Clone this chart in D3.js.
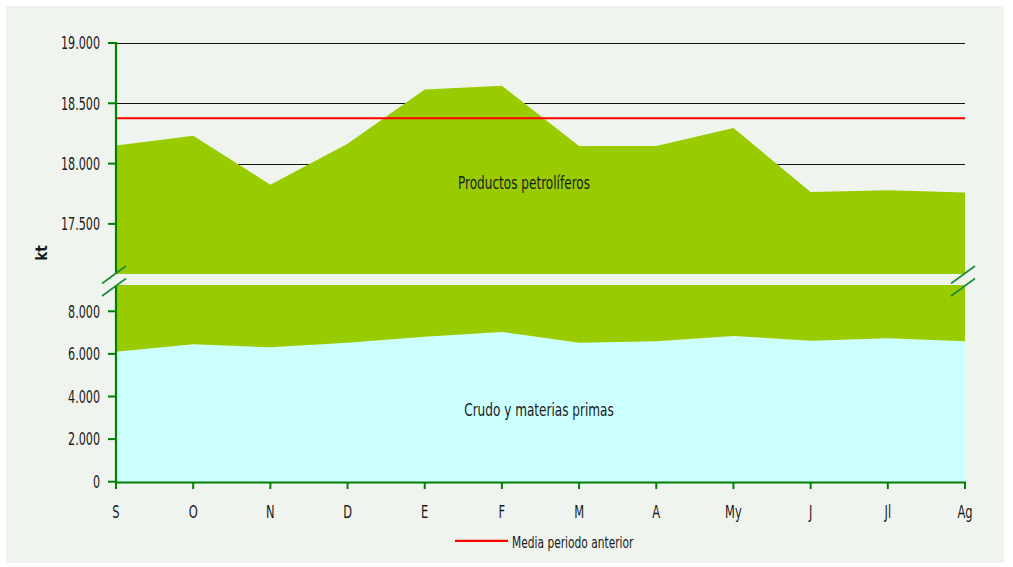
<!DOCTYPE html>
<html><head><meta charset="utf-8">
<script src="https://cdn.jsdelivr.net/npm/d3@7"></script>
<style>
html,body{margin:0;padding:0;background:#fff;}
text{font-family:"DejaVu Sans Condensed","DejaVu Sans",sans-serif;fill:#1a1a1a;}
</style></head>
<body><svg id="c" width="1013" height="567"></svg>
<script>
// ---- data ----
const months = ["S","O","N","D","E","F","M","A","My","J","Jl","Ag"];
const crudo = [6100,6450,6310,6525,6810,7030,6525,6590,6840,6620,6735,6590];
const productos = [12050,11780,11515,11640,11805,11615,11620,11555,11455,11145,11045,11170];
const mediaAnterior = 18376;
const topTicks = [17500,18000,18500,19000];
const topGrid = [18000,18500,19000];
const bottomTicks = [0,2000,4000,6000,8000];
const seriesNames = ["Crudo y materias primas","Productos petrolíferos"];
const legendLabel = "Media periodo anterior";
const yTitle = "kt";

// ---- layout ----
const svg = d3.select("#c");
const X0 = 116, X1 = 965;
const topY0 = 43, topY1 = 274, botY0 = 285, botY1 = 482;
const fmt = v => d3.format(",")(v).replace(/,/g,".");

svg.append("rect").attr("x",6).attr("y",6).attr("width",998).attr("height",557).attr("fill","#eff5ee");

const x = d3.scalePoint().domain(months).range([X0,X1]);
const yTop = d3.scaleLinear().domain([18000,19000]).range([163.6,topY0]);
const yBot = d3.scaleLinear().domain([0,8000]).range([481.7,311.3]);

const rows = months.map((m,i)=>({m, crudo:crudo[i], productos:productos[i]}));
const stack = d3.stack().keys(["crudo","productos"])(rows);

const defs = svg.append("defs");
defs.append("clipPath").attr("id","clipTop").append("rect").attr("x",X0).attr("y",0).attr("width",X1-X0).attr("height",topY1);
defs.append("clipPath").attr("id","clipBot").append("rect").attr("x",X0).attr("y",botY0).attr("width",X1-X0).attr("height",botY1-botY0);

const colors = {crudo:"#ccffff", productos:"#99cc00"};

// gridlines top
svg.append("g").selectAll("line").data(topGrid).join("line")
  .attr("x1",X0).attr("x2",X1).attr("y1",d=>Math.round(yTop(d))+0.5).attr("y2",d=>Math.round(yTop(d))+0.5)
  .attr("stroke","#111").attr("stroke-width",1);

function drawPanel(y, clip){
  const g = svg.append("g").attr("clip-path",`url(#${clip})`);
  const area = d3.area().x(d=>x(d.data.m)).y0(d=>y(d[0])).y1(d=>y(d[1]));
  g.selectAll("path").data(stack).join("path")
    .attr("d",area).attr("fill",d=>colors[d.key]);
}
drawPanel(yTop,"clipTop");
drawPanel(yBot,"clipBot");

// red average line
svg.append("line").attr("x1",X0).attr("x2",X1).attr("y1",yTop(mediaAnterior)).attr("y2",yTop(mediaAnterior))
  .attr("stroke","#ff0000").attr("stroke-width",2.2);

// compress text helper
function squeeze(sel,k){ sel.each(function(){ const L=this.getComputedTextLength(); d3.select(this).attr("textLength",L*k).attr("lengthAdjust","spacingAndGlyphs"); }); }

const axisColor = "#008000";
// y axes
function yAxis(scale, ticks, yA, yB){
  const g = svg.append("g");
  g.append("line").attr("x1",X0).attr("x2",X0).attr("y1",yA).attr("y2",yB).attr("stroke",axisColor).attr("stroke-width",2.2);
  g.selectAll("line.t").data(ticks).join("line").attr("class","t")
    .attr("x1",X0-8).attr("x2",X0).attr("y1",d=>scale(d)).attr("y2",d=>scale(d))
    .attr("stroke",axisColor).attr("stroke-width",2);
  const t = g.selectAll("text").data(ticks).join("text")
    .attr("x",100).attr("y",d=>scale(d)+6.3).attr("text-anchor","end")
    .attr("font-size",17).text(d=>fmt(d));
  squeeze(t,0.73);
}
yAxis(yTop, topTicks, topY0-1, topY1);
yAxis(yBot, bottomTicks, botY0, 483);

// x axis
const gx = svg.append("g");
gx.append("line").attr("x1",X0-1).attr("x2",X1+1).attr("y1",482.5).attr("y2",482.5).attr("stroke",axisColor).attr("stroke-width",2.2);
gx.selectAll("line.t").data(months).join("line").attr("class","t")
  .attr("x1",d=>x(d)).attr("x2",d=>x(d)).attr("y1",482).attr("y2",489).attr("stroke",axisColor).attr("stroke-width",2);
const xl = gx.selectAll("text").data(months).join("text")
  .attr("x",d=>x(d)).attr("y",518).attr("text-anchor","middle").attr("font-size",17).text(d=>d);
squeeze(xl,0.75);

// break markers
const brk = svg.append("g").attr("stroke","#1a8a3a").attr("stroke-width",1.6);
[X0, X1].forEach(bx=>{
  [[0],[12.5]].forEach(([dy])=>{
    brk.append("line").attr("x1",bx-14).attr("y1",284+dy-0.5).attr("x2",bx+10).attr("y2",266+dy);
  });
});

// series labels
const lab1 = svg.append("text").attr("x",524).attr("y",188.5).attr("text-anchor","middle").attr("font-size",17).text(seriesNames[1]);
squeeze(lab1,0.79);
const lab2 = svg.append("text").attr("x",539).attr("y",415.5).attr("text-anchor","middle").attr("font-size",17).text(seriesNames[0]);
squeeze(lab2,0.79);

// y title
svg.append("text").attr("transform","translate(47,253) rotate(-90)").attr("text-anchor","middle")
  .attr("font-size",15).attr("font-weight","bold").text(yTitle);

// legend
svg.append("line").attr("x1",455).attr("x2",508).attr("y1",540.8).attr("y2",540.8).attr("stroke","#ff0000").attr("stroke-width",2.2);
const lg = svg.append("text").attr("x",512).attr("y",547.5).attr("font-size",16).text(legendLabel);
squeeze(lg,0.74);
</script></body></html>
